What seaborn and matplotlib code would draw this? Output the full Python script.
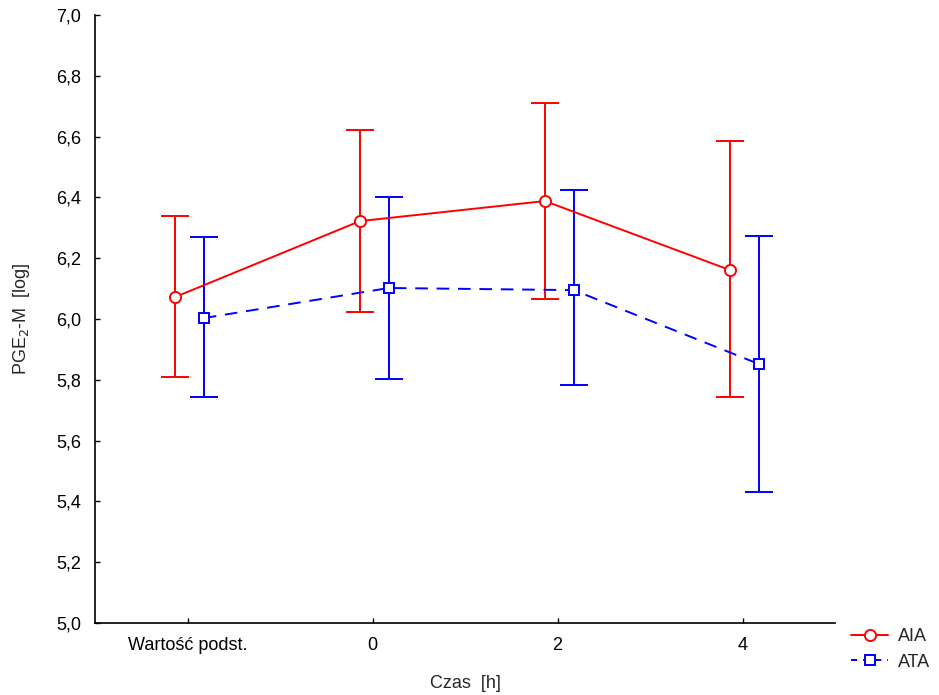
import matplotlib
matplotlib.use("Agg")
import matplotlib.pyplot as plt
import seaborn as sns
import numpy as np
import pandas as pd

categories = ["Wartość podst.", "0", "2", "4"]
aia_mean = [6.072, 6.322, 6.388, 6.161]
aia_upper = [6.339, 6.622, 6.711, 6.584]
aia_lower = [5.809, 6.023, 6.067, 5.743]
ata_mean = [6.003, 6.102, 6.095, 5.852]
ata_upper = [6.270, 6.401, 6.424, 6.274]
ata_lower = [5.743, 5.803, 5.783, 5.432]
y_ticks = [5.0, 5.2, 5.4, 5.6, 5.8, 6.0, 6.2, 6.4, 6.6, 6.8, 7.0]

sns.set_style("white")
plt.rcParams['font.family'] = ['Liberation Sans', 'DejaVu Sans']
FS = 13

fig = plt.figure(figsize=(9.39, 6.95), dpi=100)
ax = fig.add_axes([95/939, 1 - 623/695, 740/939, 608/695])

pos = np.arange(len(categories))
series = [
    ("AIA", aia_mean, aia_upper, aia_lower, -0.068, "#ff0000", "o", "-", 8.0),
    ("ATA", ata_mean, ata_upper, ata_lower, 0.088, "#0000ff", "s", (0, (6.5, 4.5)), 7.0),
]
for name, m, up, lo, off, col, mk, ls, ms in series:
    m = np.array(m); up = np.array(up); lo = np.array(lo)
    x = pos + off
    ax.errorbar(x, m, yerr=[m - lo, up - m], fmt="none", ecolor=col,
                elinewidth=1.4, capsize=10, capthick=1.4, zorder=2)
    df = pd.DataFrame({"x": x, "y": m})
    sns.lineplot(data=df, x="x", y="y", ax=ax, color=col, linewidth=1.4,
                 linestyle=ls, marker=mk, markersize=ms, markerfacecolor="white",
                 markeredgecolor=col, markeredgewidth=1.4, label=name, zorder=3)

ax.set_xlim(-0.5, 3.5)
ax.set_ylim(5.0, 7.0)
ax.set_xticks(pos)
ax.set_xticklabels(categories)
ax.set_yticks(y_ticks)
ax.set_yticklabels([f"{v:.1f}".replace(".", ",") for v in y_ticks])
ax.tick_params(axis="x", direction="in", length=3.5, width=1, labelsize=FS, pad=10,
               colors="black", bottom=True)
ax.tick_params(axis="y", direction="in", length=3.5, width=1, labelsize=FS, pad=10,
               colors="black", left=True)
for s in ["top", "right"]:
    ax.spines[s].set_visible(False)
for s in ["left", "bottom"]:
    ax.spines[s].set_color("black")
    ax.spines[s].set_linewidth(1.2)
ax.set_xlabel("Czas  [h]", fontsize=FS)
ax.set_ylabel("PGE$_2$-M  [log]", fontsize=FS)
ax.xaxis.set_label_coords(0.5, -0.086)
ax.yaxis.set_label_coords(-0.085, 0.5)

leg = ax.legend(loc="center left", bbox_to_anchor=(1.022, -0.0436), frameon=False,
                fontsize=FS, handlelength=2.05, handletextpad=0.55, labelspacing=0.45,
                borderaxespad=0, borderpad=0)
leg.get_lines()[1].set_linestyle((0, (3.2, 3.0)))

fig.savefig("out.png", dpi=100, facecolor="white")
